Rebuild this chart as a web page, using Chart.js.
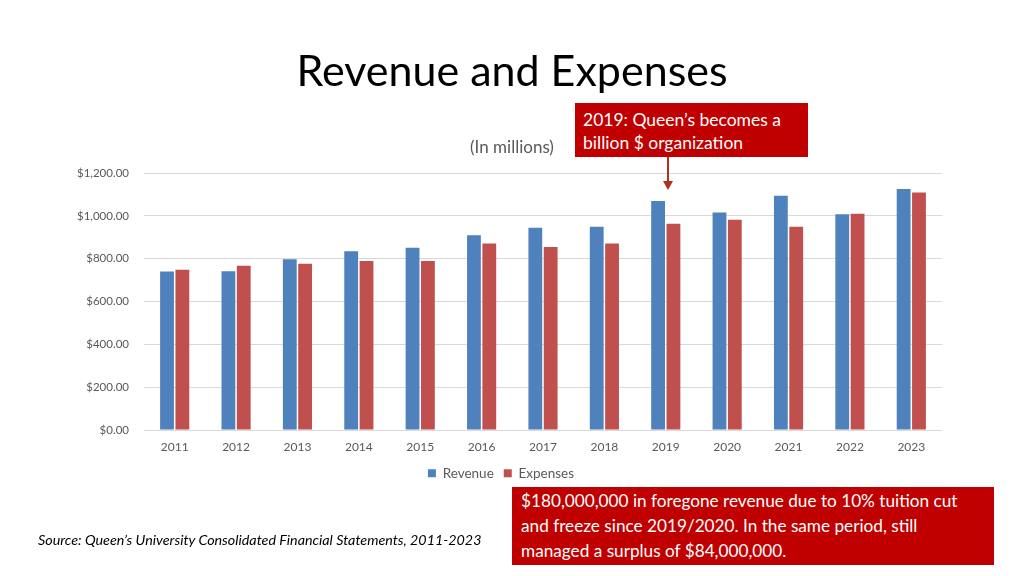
<!DOCTYPE html>
<html>
<head>
<meta charset="utf-8">
<script src="https://cdn.jsdelivr.net/npm/chart.js@4"></script>
<style>
  html, body { margin: 0; padding: 0; background: #fff; }
  #wrap { position: relative; width: 1024px; height: 576px; font-family: Lato, "Open Sans", sans-serif; }
  #myChart { position: absolute; left: 0; top: 0; }
  .title { position: absolute; left: 0; width: 1024px; top: 44px; text-align: center; font-size: 43px; color: #000; }
  .sub { position: absolute; left: 412px; width: 200px; top: 136px; text-align: center; font-size: 17px; color: #595959; }
  .box { position: absolute; background: #c00000; color: #fff; box-sizing: border-box; }
  #box1 { left: 575px; top: 103px; width: 233px; height: 54px; padding: 5px 8px; font-size: 17.5px; line-height: 23px; }
  #box2 { left: 512px; top: 487px; width: 482px; height: 78px; padding: 1px 9px; font-size: 17.2px; line-height: 25px; }
  .arrow { position: absolute; left: 667px; top: 157px; width: 2px; height: 25px; background: #b0301a; }
  .head { position: absolute; left: 663px; top: 181px; width: 0; height: 0;
          border-left: 5px solid transparent; border-right: 5px solid transparent; border-top: 9px solid #b0301a; }
  .src { position: absolute; left: 38px; top: 531px; font-size: 14.3px; font-style: italic; color: #000; }
</style>
</head>
<body>
<div id="wrap">
  <canvas id="myChart" width="1024" height="576"></canvas>
  <div class="title">Revenue and Expenses</div>
  <div class="sub">(In millions)</div>
  <div class="box" id="box1">2019: Queen’s becomes a<br>billion $ organization</div>
  <div class="arrow"></div>
  <div class="head"></div>
  <div class="box" id="box2">$180,000,000 in foregone revenue due to 10% tuition cut<br>and freeze since 2019/2020. In the same period, still<br>managed a surplus of $84,000,000.</div>
  <div class="src">Source: Queen’s University Consolidated Financial Statements, 2011-2023</div>
</div>
<script>
// Years on the x axis
const years = ['2011', '2012', '2013', '2014', '2015', '2016', '2017', '2018', '2019', '2020', '2021', '2022', '2023'];
// Values in millions
const revenue = [740, 742, 798, 835, 851, 910, 944, 949, 1069, 1016, 1094, 1008, 1125];
const expenses = [749, 767, 776, 789, 789, 871, 855, 871, 963, 982, 949, 1010, 1109];

const gray = '#595959';

const ctx = document.getElementById('myChart').getContext('2d');

const revenueChart = new Chart(ctx, {
    type: 'bar',
    data: {
        labels: years,
        datasets: [
            { label: 'Revenue', data: revenue, backgroundColor: '#4f81bd' },
            { label: 'Expenses', data: expenses, backgroundColor: '#c0504d' },
        ],
    },
    options: {
        responsive: false,
        animation: false,
        categoryPercentage: 0.5,
        barPercentage: 0.9,
        layout: { padding: { left: 60, right: 82, top: 173, bottom: 86 } },
        plugins: {
            legend: {
                position: 'bottom',
                labels: { boxWidth: 8, boxHeight: 8, color: gray, font: { family: 'Lato', size: 13.5 }, padding: 10 },
            },
            tooltip: { enabled: false },
        },
        scales: {
            x: {
                grid: { display: false },
                border: { display: false },
                ticks: { color: gray, font: { family: 'Lato', size: 12 }, padding: 2 },
            },
            y: {
                min: 0,
                max: 1200,
                afterFit: (scale) => { scale.width = 84; },
                grid: { color: '#d9d9d9', drawTicks: false },
                border: { display: false },
                ticks: {
                    stepSize: 200,
                    padding: 15,
                    color: gray,
                    font: { family: 'Lato', size: 11.5 },
                    callback: (v) => '$' + v.toLocaleString('en-US', { minimumFractionDigits: 2, maximumFractionDigits: 2 }),
                },
            },
        },
    },
});
</script>
</body>
</html>
